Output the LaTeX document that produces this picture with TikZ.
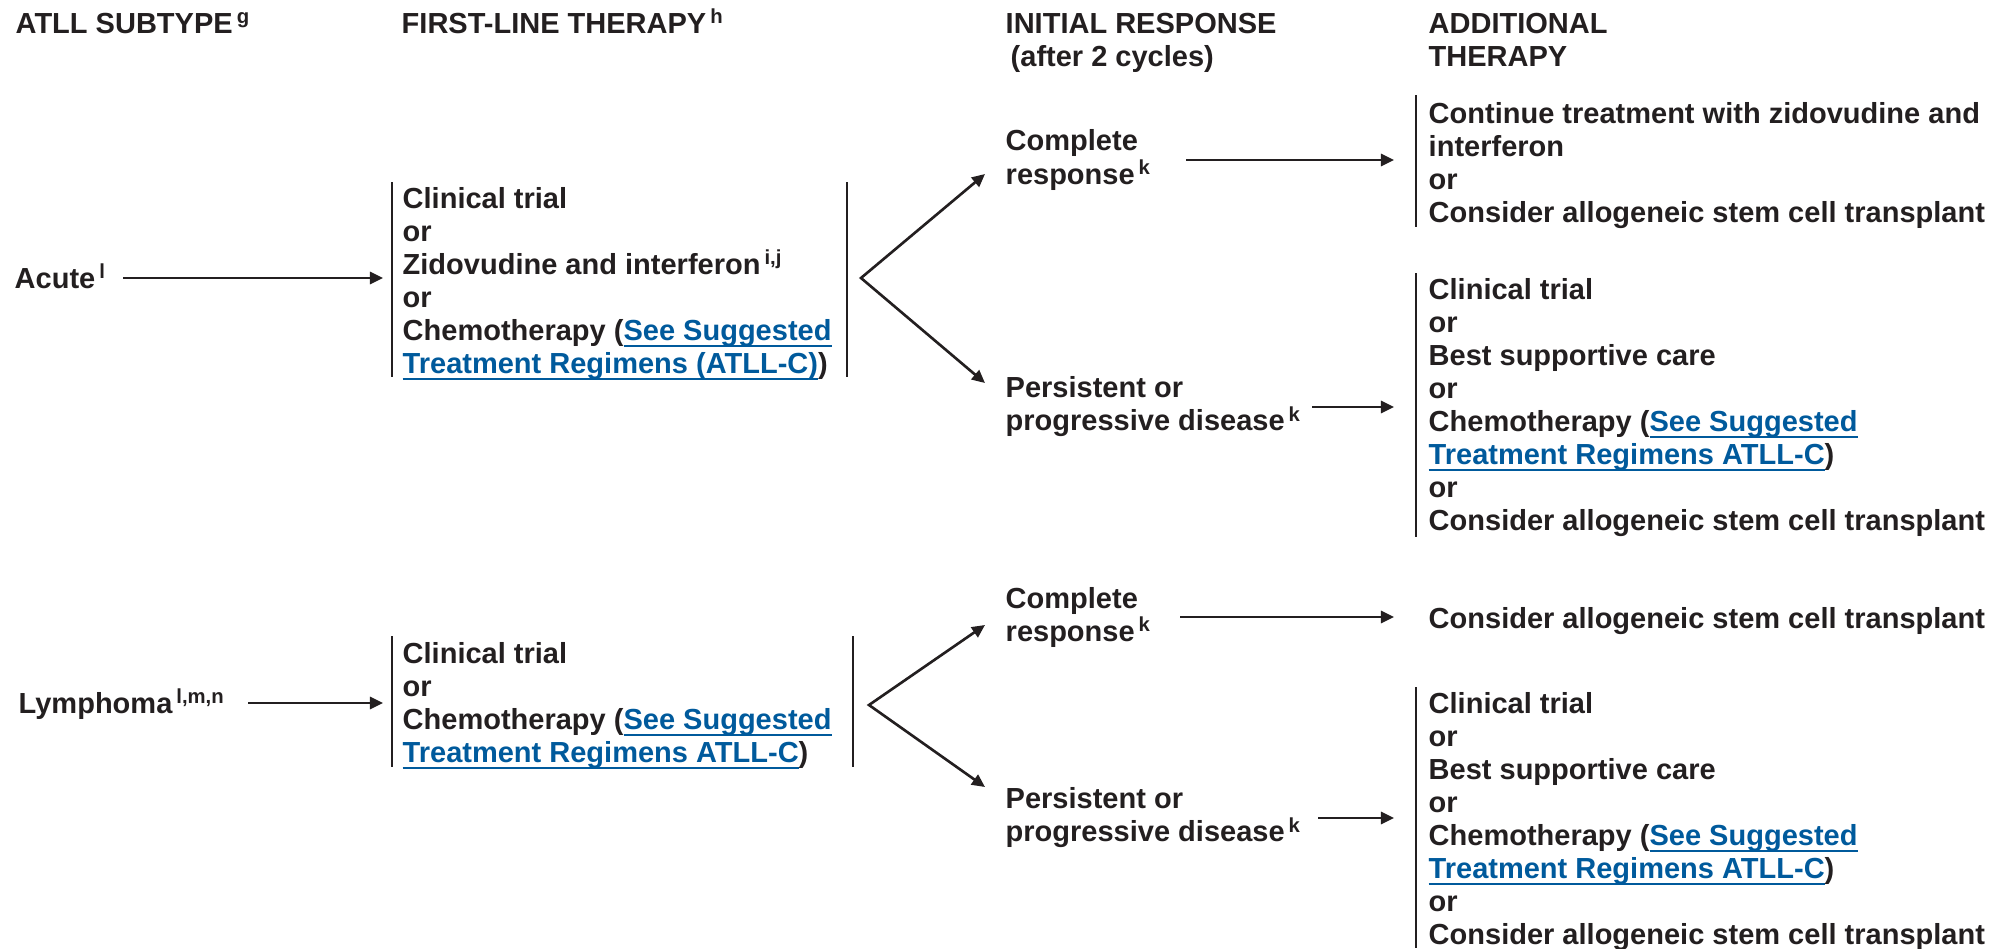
\documentclass[tikz,border=0pt]{standalone}
\usepackage{fontspec}
\setmainfont{Liberation Sans}
\usepackage{tikz}
\usepackage{color}
\usetikzlibrary{arrows.meta}
\definecolor{ink}{RGB}{35,31,32}
\definecolor{linkblue}{RGB}{0,90,156}
\newcommand{\seelink}[1]{\textcolor{linkblue}{\setbox0\hbox{#1}\rlap{\rule[-0.07cm]{\wd0}{0.025cm}}\box0}}
\newcommand{\fn}[1]{\kern0.04cm\textsuperscript{#1}}

\begin{document}
\begin{tikzpicture}[x=0.01cm, y=0.01cm]
\tikzstyle{every node}+=[inner sep=0pt, text=ink, font=\fontsize{8.25pt}{9.39pt}\selectfont\bfseries]
\tikzstyle{lbl}=[anchor=west, text height=0.21cm, text depth=0cm]
\tikzstyle{rsp}=[anchor=west, align=left]
\tikzstyle{lst}=[anchor=north west, align=left]
\tikzstyle{bar}=[ink, line width=0.75pt]
\tikzstyle{arr}=[ink, line width=0.75pt, >={Triangle[length=0.13cm,width=0.12cm]}]
\useasboundingbox (0,0) rectangle (1997,-948);
\draw (15,-23) node [lbl] (hsub) {ATLL SUBTYPE\fn{g}};
\draw (401,-23) node [lbl] (hfirst) {FIRST-LINE THERAPY\fn{h}};
\draw (1005,-12.5) node [lst] (hinit) {INITIAL RESPONSE\\\kern0.05cm(after 2 cycles)};
\draw (1428,-12.5) node [lst] (hadd) {ADDITIONAL\\THERAPY};
\draw (14,-278) node [lbl] (acute) {Acute\fn{l}};
\draw (402,-186.5) node [lst] (F1) {Clinical trial\\or\\Zidovudine and interferon\fn{i,j}\\or\\Chemotherapy (\seelink{See Suggested}\\\seelink{Treatment Regimens (ATLL-C)})};
\draw [bar] (392,-182) -- (392,-377);
\draw [bar] (847,-182) -- (847,-377);
\draw [arr, ->, shorten <=0.16cm, shorten >=0.19cm] (acute.east) -- (acute.east -| F1.west);
\coordinate (fk1) at (861,-278);
\coordinate (up1) at (985,-174);
\coordinate (dn1) at (985,-383);
\draw [arr, <->] (up1) -- (fk1) -- (dn1);
\draw (1005,-160) node [rsp] (CR1) {Complete\\response\fn{k}};
\draw (1005,-407) node [rsp] (PD1) {Persistent or\\progressive disease\fn{k}};
\draw (1428,-101.5) node [lst] (A1) {Continue treatment with zidovudine and\\interferon\\or\\Consider allogeneic stem cell transplant};
\draw [bar] (1416,-95) -- (1416,-227);
\draw (1428,-277.5) node [lst] (A2) {Clinical trial\\or\\Best supportive care\\or\\Chemotherapy (\seelink{See Suggested}\\\seelink{Treatment Regimens ATLL-C})\\or\\Consider allogeneic stem cell transplant};
\draw [bar] (1416,-273) -- (1416,-537);
\draw [arr, ->, shorten <=0.34cm, shorten >=0.34cm] (CR1.east) -- (CR1.east -| A1.west);
\draw [arr, ->, shorten <=0.1cm, shorten >=0.34cm] (PD1.east) -- (PD1.east -| A2.west);
\draw (18,-703) node [lbl] (lym) {Lymphoma\fn{l,m,n}};
\draw (402,-641.5) node [lst] (F2) {Clinical trial\\or\\Chemotherapy (\seelink{See Suggested}\\\seelink{Treatment Regimens ATLL-C})};
\draw [bar] (392,-636) -- (392,-767);
\draw [bar] (853,-636) -- (853,-767);
\draw [arr, ->, shorten <=0.22cm, shorten >=0.19cm] (lym.east) -- (lym.east -| F2.west);
\coordinate (fk2) at (869,-705);
\coordinate (up2) at (985,-625);
\coordinate (dn2) at (985,-787);
\draw [arr, <->] (up2) -- (fk2) -- (dn2);
\draw (1005,-617) node [rsp] (CR2) {Complete\\response\fn{k}};
\draw (1005,-818) node [rsp] (PD2) {Persistent or\\progressive disease\fn{k}};
\draw (1428,-606.5) node [lst] (A3) {Consider allogeneic stem cell transplant};
\draw (1428,-691.5) node [lst] (A4) {Clinical trial\\or\\Best supportive care\\or\\Chemotherapy (\seelink{See Suggested}\\\seelink{Treatment Regimens ATLL-C})\\or\\Consider allogeneic stem cell transplant};
\draw [bar] (1416,-687) -- (1416,-948);
\draw [arr, ->, shorten <=0.28cm, shorten >=0.34cm] (CR2.east) -- (CR2.east -| A3.west);
\draw [arr, ->, shorten <=0.16cm, shorten >=0.34cm] (PD2.east) -- (PD2.east -| A4.west);
\end{tikzpicture}
\end{document}
